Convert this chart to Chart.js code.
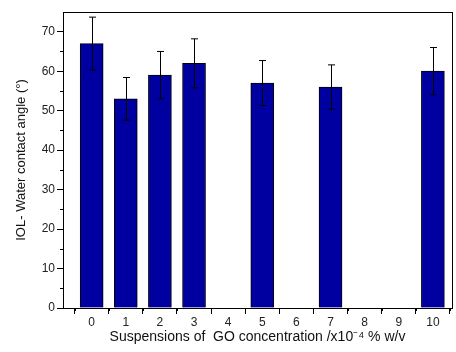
<!DOCTYPE html>
<html>
<head>
<meta charset="utf-8">
<script src="https://cdn.jsdelivr.net/npm/chart.js@4"></script>
<style>
  html, body { margin: 0; padding: 0; background: #fff; }
  #wrap { width: 456px; height: 352px; }
</style>
</head>
<body>
<div id="wrap"><canvas id="angleChart" width="456" height="352"></canvas></div>
<script>
// GO concentration (x10^-4 % w/v) and measured contact angle
const concentrations = [0, 1, 2, 3, 5, 7, 10];
const contactAngle = [67, 53, 59, 62, 57, 56, 60];
const angleError = [6.7, 5.4, 6.0, 6.2, 5.7, 5.6, 6.0];

// error bars + minor ticks + frame
const extrasPlugin = {
    id: 'extras',
    afterDatasetsDraw(chart) {
        const ctx = chart.ctx;
        const yScale = chart.scales.y;
        const meta = chart.getDatasetMeta(0);
        ctx.save();
        ctx.strokeStyle = '#000';
        ctx.lineWidth = 1;
        meta.data.forEach((bar, i) => {
            const x = Math.round(bar.x) + 0.5;
            const top = yScale.getPixelForValue(contactAngle[i] + angleError[i]);
            const bot = yScale.getPixelForValue(contactAngle[i] - angleError[i]);
            ctx.beginPath();
            ctx.moveTo(x, top);
            ctx.lineTo(x, bot);
            ctx.moveTo(x - 3.5, top);
            ctx.lineTo(x + 3.5, top);
            ctx.moveTo(x - 3.5, bot);
            ctx.lineTo(x + 3.5, bot);
            ctx.stroke();
        });
        ctx.restore();
    },
    afterDraw(chart) {
        const ctx = chart.ctx;
        const area = chart.chartArea;
        const xs = chart.scales.x, ys = chart.scales.y;
        ctx.save();
        ctx.strokeStyle = '#000';
        ctx.lineWidth = 1;
        ctx.strokeRect(Math.round(area.left) + 0.5, Math.round(area.top) + 0.5,
                       Math.round(area.right - area.left), Math.round(area.bottom - area.top));
        ctx.beginPath();
        for (let v = -0.5; v <= 10.5; v += 1) {
            const px = Math.round(xs.getPixelForValue(v)) + 0.5;
            ctx.moveTo(px, area.bottom);
            ctx.lineTo(px, area.bottom + 3);
        }
        for (let v = 5; v < 75; v += 10) {
            const py = Math.round(ys.getPixelForValue(v)) + 0.5;
            ctx.moveTo(area.left, py);
            ctx.lineTo(area.left - 3, py);
        }
        ctx.stroke();
        ctx.restore();
    }
};

const tickFont = { family: 'Liberation Sans', size: 12 };

new Chart(document.getElementById('angleChart'), {
    type: 'bar',
    data: {
        datasets: [{
            data: concentrations.map((c, i) => ({ x: c, y: contactAngle[i] })),
            backgroundColor: '#0000a0',
            borderColor: '#000',
            borderWidth: 1,
            barThickness: 23
        }]
    },
    options: {
        responsive: false,
        animation: false,
        layout: { padding: { left: 0, right: 4, top: 12, bottom: 6 } },
        plugins: { legend: { display: false }, tooltip: { enabled: false } },
        scales: {
            x: {
                type: 'linear',
                offset: false,
                min: -0.84,
                max: 10.56,
                afterFit(scale) { scale.height = 38; },
                grid: { drawOnChartArea: false, drawTicks: true, tickLength: 6, color: '#000' },
                border: { display: true, color: '#000' },
                ticks: { stepSize: 1, includeBounds: false, color: '#222', font: tickFont, padding: 1 },
                title: {
                    display: true,
                    text: 'Suspensions of  GO concentration /x10\u207B\u2074 % w/v',
                    color: '#111',
                    font: { family: 'Liberation Sans', size: 14 },
                    padding: { top: 0, bottom: 0 }
                }
            },
            y: {
                min: 0,
                max: 75,
                afterFit(scale) { scale.width = 63; },
                grid: { drawOnChartArea: false, drawTicks: true, tickLength: 6, color: '#000' },
                border: { display: true, color: '#000' },
                ticks: { stepSize: 10, includeBounds: false, color: '#222', font: tickFont, padding: 2 },
                title: {
                    display: true,
                    text: 'IOL- Water contact angle (\u00B0)',
                    color: '#111',
                    font: { family: 'Liberation Sans', size: 13 },
                    padding: { top: 14, bottom: 0 }
                }
            }
        }
    },
    plugins: [extrasPlugin]
});
</script>
</body>
</html>
